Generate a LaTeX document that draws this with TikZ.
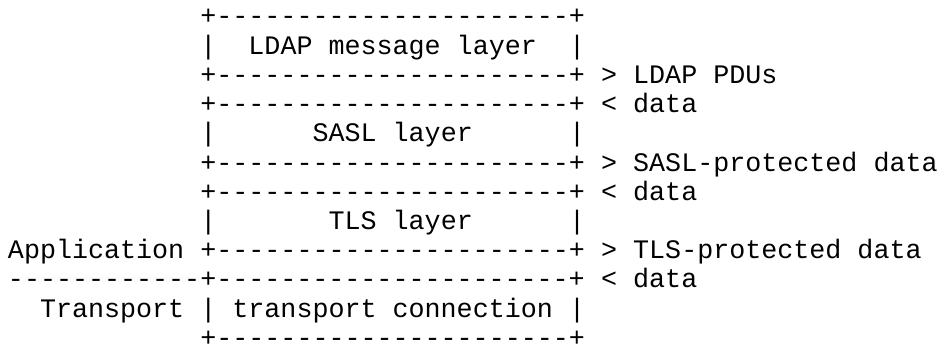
\documentclass[tikz,border=0pt]{standalone}
\usepackage{fontspec}
\setmonofont{Liberation Mono}
\usepackage{tikz}
\usepackage{xcolor}

% one unit = one character cell (x) and one text line (y)
\tikzset{
  txt/.style={anchor=base west, inner sep=0pt, outer sep=0pt,
              font=\fontsize{26.7}{29.2}\selectfont\ttfamily}
}

\begin{document}
\begin{tikzpicture}[x=16.03pt,y=-29.2pt]
	\useasboundingbox (-0.499,0.144) rectangle (57.95,12.027);
	% LDAP message layer
	\node[txt] (top1) at (12,1) {+----------------------+};
	\node[txt] (ldapl) at (12,2) {|};
	\node[txt] (ldap) at (15,2) {LDAP message layer};
	\node[txt] (ldapr) at (35,2) {|};
	\node[txt] (bot1) at (12,3) {+----------------------+};
	\node[txt] (pdus) at (37,3) {> LDAP PDUs};
	% SASL layer
	\node[txt] (top2) at (12,4) {+----------------------+};
	\node[txt] (data1) at (37,4) {< data};
	\node[txt] (sasll) at (12,5) {|};
	\node[txt] (sasl) at (19,5) {SASL layer};
	\node[txt] (saslr) at (35,5) {|};
	\node[txt] (bot2) at (12,6) {+----------------------+};
	\node[txt] (sasld) at (37,6) {> SASL-protected data};
	% TLS layer
	\node[txt] (top3) at (12,7) {+----------------------+};
	\node[txt] (data2) at (37,7) {< data};
	\node[txt] (tlsl) at (12,8) {|};
	\node[txt] (tls) at (20,8) {TLS layer};
	\node[txt] (tlsr) at (35,8) {|};
	\node[txt] (app) at (0,9) {Application};
	\node[txt] (bot3) at (12,9) {+----------------------+};
	\node[txt] (tlsd) at (37,9) {> TLS-protected data};
	% transport
	\node[txt] (split) at (0,10) {------------+----------------------+};
	\node[txt] (data3) at (37,10) {< data};
	\node[txt] (trans) at (2,11) {Transport};
	\node[txt] (connl) at (12,11) {|};
	\node[txt] (conn) at (14,11) {transport connection};
	\node[txt] (connr) at (35,11) {|};
	\node[txt] (bot4) at (12,12) {+----------------------+};
\end{tikzpicture}
\end{document}
